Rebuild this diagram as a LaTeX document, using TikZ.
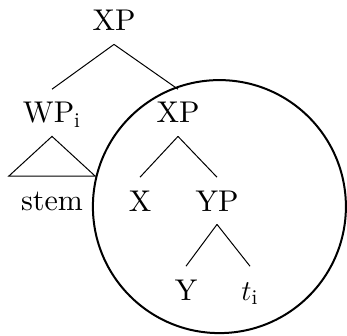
\documentclass[tikz,border=0pt]{standalone}
\usepackage{fontspec}
\newfontfamily\treefont{lmroman10-regular.otf}
\usetikzlibrary{positioning}
\begin{document}
\begin{tikzpicture}[
    node distance=44.5pt, on grid,
    cat/.style={inner xsep=6pt, inner ysep=6.5pt, text height=10.2pt, text depth=0pt, font=\treefont\fontsize{15}{18}\selectfont},
    edge/.style={line width=0.5pt},
    ring/.style={draw, circle, line width=1pt, minimum size=126.5pt, inner sep=0pt},
]
\useasboundingbox (-57pt,10.4pt) rectangle (116.5pt,-157.6pt);

\node[cat] (top) {XP};
\node[cat, below=46pt of top, xshift=-31pt] (wp) {WP$_{\mathrm{i}}$};
\node[cat, below=46pt of top, xshift=32pt] (xp) {XP};
\node[cat, below=43.5pt of wp] (stem) {stem};
\node[cat, below=44pt of xp, xshift=-19pt] (x) {X};
\node[cat, below=44pt of xp, xshift=19.5pt] (yp) {YP};
\node[cat, below=of yp, xshift=-15.5pt] (y) {Y};
\node[cat, below=of yp, xshift=16.5pt] (t) {$t_{\mathrm{i}}$};

\draw[edge] (top.south) -- (wp.north);
\draw[edge] (top.south) -- (xp.north);
\draw[edge] (wp.south) -- (stem.north west) -- (stem.north east) -- cycle;
\draw[edge] (xp.south) -- (x.north);
\draw[edge] (xp.south) -- (yp.north);
\draw[edge] (yp.south) -- (y.north);
\draw[edge] (yp.south) -- (t.north);

% domain around the lower XP
\node[ring, below=2.9pt of yp, xshift=1.2pt] (dom) {};
\end{tikzpicture}
\end{document}
